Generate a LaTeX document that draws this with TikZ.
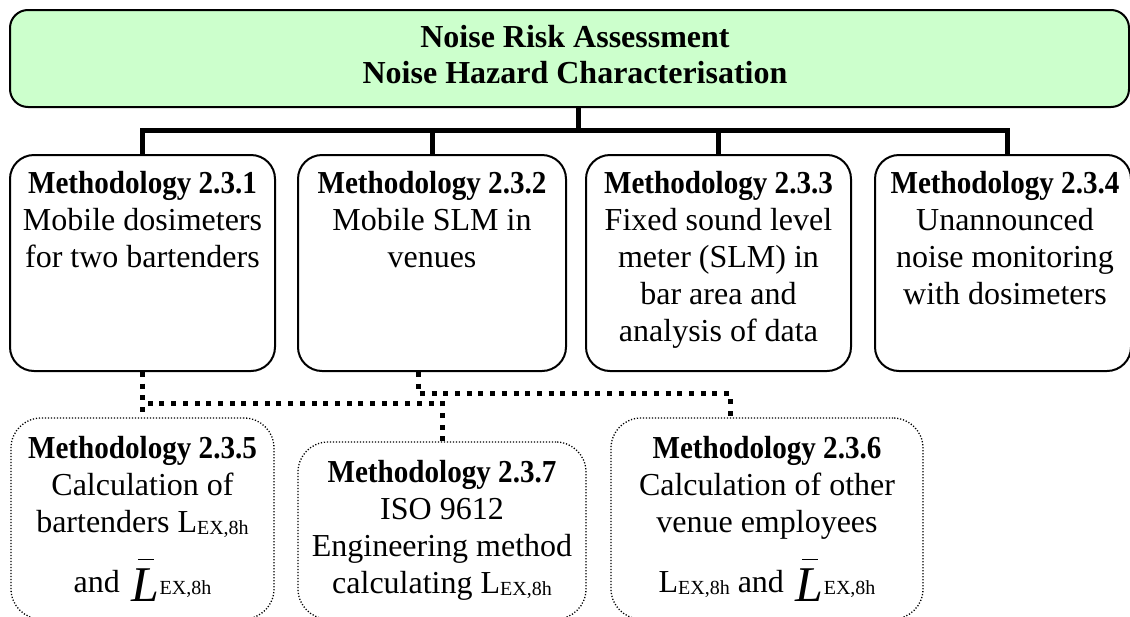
\documentclass[tikz,border=0pt]{standalone}
\usepackage{graphicx}
\usepackage{fontspec}
\setmainfont{Liberation Serif}

% bold box heading, set a little narrow
\newcommand\meth[1]{\scalebox{0.91}[1]{\textbf{Methodology #1}}}
% L_{EX,8h}: upright L with a small subscript
\newcommand\lsub{\raisebox{-1pt}{\fontsize{10pt}{10pt}\selectfont EX,8h}}
\newcommand\lexh{L\lsub}
% large italic L with a short bar above, followed by the subscript
\newcommand\lbarexh{\hspace{2pt}\smash{\raisebox{-4.5pt}{\fontsize{25pt}{25pt}\selectfont\itshape
  \makebox[0pt][l]{\hspace{3pt}\raisebox{20.5pt}{\rule{8pt}{0.75pt}}}L}}\lsub}

\definecolor{titlegreen}{HTML}{CCFFCC}

\tikzset{
  topbox/.style={draw, line width=1pt, rounded corners=9pt, fill=titlegreen, inner sep=0pt},
  methbox/.style={draw, line width=1pt, rounded corners=12pt, inner sep=0pt,
    minimum height=108pt},
  calcbox/.style={draw, line width=0.65pt, dash pattern=on 0.6pt off 0.9pt,
    rounded corners=15pt, inner sep=0pt},
  boxtext/.style={inner sep=0pt, align=center, anchor=north,
    font=\fontsize{16pt}{18.5pt}\selectfont},
  tree/.style={line width=2.5pt},
  dotlink/.style={line width=2.5pt, dash pattern=on 2.5pt off 3.35pt}
}

\begin{document}
\begin{tikzpicture}[x=0.5pt, y=-0.5pt]
  \useasboundingbox (0,0) rectangle (1130,616);
  \fill[white] (0,0) rectangle (1130,616);
  \clip (0,0) rectangle (1130,616);

  % title box
  \node[topbox, minimum width=559.5pt, minimum height=48.5pt] (top) at (569.5,58.5) {};
  \node[boxtext, font=\fontsize{16pt}{18pt}\selectfont\bfseries] (t0) at (575,23)
    {\rule{0pt}{12pt}Noise Risk Assessment\\Noise Hazard Characterisation};

  % methodology boxes
  \node[methbox, minimum width=132.5pt] (b1) at (142.5,263) {};
  \node[methbox, minimum width=134pt]   (b2) at (432,263) {};
  \node[methbox, minimum width=132.5pt] (b3) at (718.5,263) {};
  \node[methbox, minimum width=128pt]   (b4) at (1003,263) {};

  \node[boxtext] (t1) at (142.5,169)
    {\rule{0pt}{12pt}\meth{2.3.1}\\Mobile dosimeters\\for two bartenders};
  \node[boxtext] (t2) at (432,169)
    {\rule{0pt}{12pt}\meth{2.3.2}\\Mobile SLM in\\venues};
  \node[boxtext] (t3) at (718.5,169)
    {\rule{0pt}{12pt}\meth{2.3.3}\\Fixed sound level\\meter (SLM) in\\bar area and\\analysis of data};
  \node[boxtext] (t4) at (1005,169)
    {\rule{0pt}{12pt}\meth{2.3.4}\\Unannounced\\noise monitoring\\with dosimeters};

  % calculation boxes
  \node[calcbox, minimum width=131.5pt, minimum height=100.5pt] (d5) at (142.5,518.5) {};
  \node[calcbox, minimum width=144pt,   minimum height=88.5pt]  (d7) at (442,530.5) {};
  \node[calcbox, minimum width=156pt,   minimum height=100.5pt] (d6) at (767,518.5) {};

  \node[boxtext] (t5) at (142.5,434)
    {\rule{0pt}{12pt}\meth{2.3.5}\\Calculation of\\bartenders \lexh\\[11.5pt]and \lbarexh};
  \node[boxtext] (t7) at (442,458)
    {\rule{0pt}{12pt}\meth{2.3.7}\\ISO 9612\\Engineering method\\calculating \lexh};
  \node[boxtext] (t6) at (767,434)
    {\rule{0pt}{12pt}\meth{2.3.6}\\Calculation of other\\venue employees\\[11.5pt]\lexh{} and \lbarexh};

  % solid tree from the title box
  \coordinate (j) at (578,130.5);
  \draw[tree] ([xshift=4.25pt]top.south) -- (j);
  \draw[tree] (b1.north) |- (j);
  \draw[tree] (b2.north) |- (j);
  \draw[tree] (b3.north) |- (j);
  \draw[tree] ([xshift=2pt]b4.north) |- (j);

  % dotted links to the calculation boxes
  \coordinate (k1) at (142.5,403);
  \draw[dotlink] (b1.south) -- (d5.north);
  \draw[dotlink] (d7.north) |- (k1);
  \draw[dotlink] ([xshift=-7pt]b2.south) -- ++(0,21.5) -| ([xshift=-18.5pt]d6.north);
\end{tikzpicture}
\end{document}
